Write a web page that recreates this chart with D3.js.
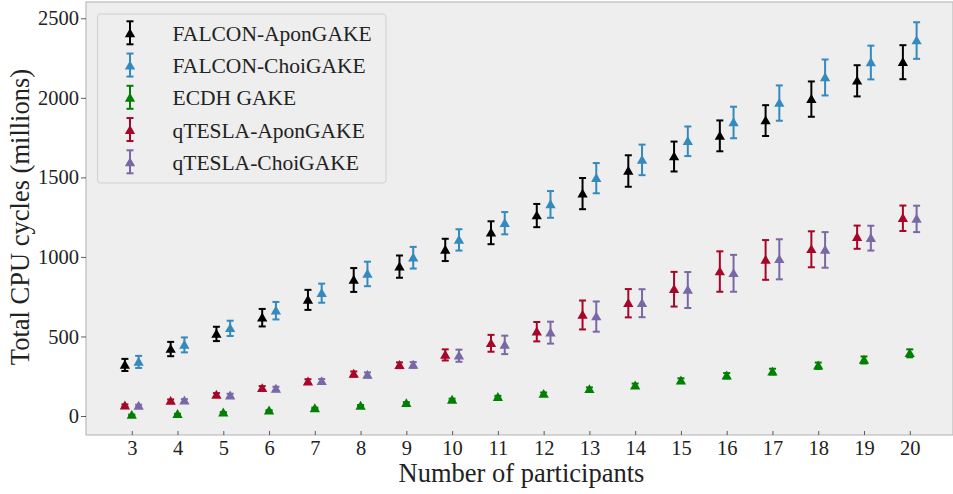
<!DOCTYPE html>
<html>
<head>
<meta charset="utf-8">
<script src="https://cdn.jsdelivr.net/npm/d3@7"></script>
<style>
  body { margin: 0; background: #fff; }
  svg text { font-family: "Liberation Serif", "DejaVu Serif", serif; fill: #222; }
</style>
</head>
<body>
<svg id="chart" width="953" height="494"></svg>
<script>
// participants on the x axis
var participants = [3, 4, 5, 6, 7, 8, 9, 10, 11, 12, 13, 14, 15, 16, 17, 18, 19, 20];

// mean cycles (millions) and error half-widths
var falconApon    = [321, 421, 516, 618, 730, 855, 939, 1044, 1152, 1260, 1398, 1540, 1631, 1761, 1857, 1992, 2107, 2224];
var falconAponErr = [38, 45, 45, 55, 63, 75, 70, 70, 72, 73, 98, 99, 94, 97, 97, 111, 98, 107];
var falconChoi    = [340, 447, 551, 662, 772, 893, 995, 1107, 1212, 1330, 1495, 1610, 1727, 1845, 1967, 2128, 2222, 2360];
var falconChoiErr = [38, 47, 48, 55, 60, 77, 68, 67, 70, 84, 95, 96, 93, 99, 111, 113, 106, 115];
var ecdh          = [6, 11, 21, 33, 48, 63, 80, 101, 118, 138, 168, 191, 222, 253, 279, 316, 352, 394];
var ecdhErr       = [3, 3, 4, 4, 5, 6, 7, 8, 9, 10, 12, 13, 15, 17, 18, 20, 22, 25];
var qteslaApon    = [65, 94, 132, 174, 216, 264, 319, 384, 457, 530, 635, 709, 797, 908, 981, 1048, 1124, 1243];
var qteslaAponErr = [8, 10, 12, 14, 15, 16, 18, 35, 53, 61, 91, 89, 109, 127, 125, 113, 73, 80];
var qteslaChoi    = [63, 96, 128, 170, 218, 258, 321, 379, 447, 524, 625, 709, 792, 897, 985, 1044, 1118, 1239];
var qteslaChoiErr = [8, 10, 12, 14, 15, 16, 18, 38, 58, 69, 95, 88, 113, 116, 126, 112, 78, 83];

var seriesNames  = ["FALCON-AponGAKE", "FALCON-ChoiGAKE", "ECDH GAKE", "qTESLA-AponGAKE", "qTESLA-ChoiGAKE"];
var seriesColors = ["#000000", "#348ABD", "#008000", "#A60628", "#7A68A6"];
var seriesShift  = [-0.15, 0.15, 0, -0.15, 0.15];
var seriesValues = [falconApon, falconChoi, ecdh, qteslaApon, qteslaChoi];
var seriesErrors = [falconAponErr, falconChoiErr, ecdhErr, qteslaAponErr, qteslaChoiErr];

var yTicks = [0, 500, 1000, 1500, 2000, 2500];

var svg = d3.select('#chart');
var plotLeft = 86, plotRight = 953, plotTop = 2, plotBottom = 435;

var x = d3.scaleLinear().domain([2, 20.945]).range([plotLeft, plotRight]);
var y = d3.scaleLinear().domain([-119.4, 2602.4]).range([plotBottom, plotTop]);

// axes background
svg.append('rect')
  .attr('x', plotLeft).attr('y', plotTop)
  .attr('width', plotRight - plotLeft).attr('height', plotBottom - plotTop)
  .attr('fill', '#eeeeee')
  .attr('stroke', '#bcbcbc').attr('stroke-width', 1.2);

// x axis, ticks point inward
var xAxis = svg.append('g')
  .attr('transform', 'translate(0,' + plotBottom + ')')
  .call(d3.axisBottom(x).tickValues(participants).tickSize(-4).tickPadding(5));
xAxis.select('.domain').remove();
xAxis.selectAll('line').attr('stroke', '#333').attr('stroke-width', 0.8);
xAxis.selectAll('text').attr('font-size', '20.5px').attr('fill', '#222')
  .attr('font-family', '"Liberation Serif", serif');

// y axis, ticks point outward
var yAxis = svg.append('g')
  .attr('transform', 'translate(' + plotLeft + ',0)')
  .call(d3.axisLeft(y).tickValues(yTicks).tickFormat(d3.format('d')).tickSize(5).tickPadding(2));
yAxis.select('.domain').remove();
yAxis.selectAll('line').attr('stroke', '#333').attr('stroke-width', 0.8);
yAxis.selectAll('text').attr('font-size', '20.5px').attr('fill', '#222')
  .attr('font-family', '"Liberation Serif", serif');

// axis titles
svg.append('text')
  .attr('x', (plotLeft + plotRight) / 2 + 2).attr('y', 481.5)
  .attr('text-anchor', 'middle').attr('font-size', '26.5px')
  .text('Number of participants');
svg.append('text')
  .attr('transform', 'translate(29,' + 217 + ') rotate(-90)')
  .attr('text-anchor', 'middle').attr('font-size', '26.5px')
  .text('Total CPU cycles (millions)');

var tri = d3.symbol().type(d3.symbolTriangle).size(46);

// draw each series as error bars plus triangle markers
seriesValues.forEach(function(vals, s) {
  var g = svg.append('g');
  var col = seriesColors[s];
  var pts = participants.map(function(p, i) {
    return { x: p + seriesShift[s], v: vals[i], e: seriesErrors[s][i] };
  });
  var bars = g.selectAll('g.bar').data(pts).enter().append('g').attr('class', 'bar');
  bars.append('line')
    .attr('x1', function(d) { return x(d.x); }).attr('x2', function(d) { return x(d.x); })
    .attr('y1', function(d) { return y(d.v - d.e); }).attr('y2', function(d) { return y(d.v + d.e); })
    .attr('stroke', col).attr('stroke-width', 2);
  [-1, 1].forEach(function(sign) {
    bars.append('line')
      .attr('x1', function(d) { return x(d.x) - 3.5; }).attr('x2', function(d) { return x(d.x) + 3.5; })
      .attr('y1', function(d) { return y(d.v + sign * d.e); }).attr('y2', function(d) { return y(d.v + sign * d.e); })
      .attr('stroke', col).attr('stroke-width', 2);
  });
  bars.append('path')
    .attr('d', tri)
    .attr('transform', function(d) { return 'translate(' + x(d.x) + ',' + (y(d.v) + 0.8) + ')'; })
    .attr('fill', col);
});

// legend
var legend = svg.append('g');
legend.append('rect')
  .attr('x', 97.5).attr('y', 14).attr('width', 288.5).attr('height', 169)
  .attr('rx', 3).attr('fill', '#eeeeee').attr('stroke', '#d0d0d0').attr('stroke-width', 1);
seriesNames.forEach(function(name, s) {
  var cy = 33.3 + s * 32.25;
  var col = seriesColors[s];
  var item = legend.append('g').attr('transform', 'translate(130,' + cy + ')');
  item.append('line').attr('x1', 0).attr('x2', 0).attr('y1', -12).attr('y2', 11)
    .attr('stroke', col).attr('stroke-width', 2);
  item.append('line').attr('x1', -3.5).attr('x2', 3.5).attr('y1', -12).attr('y2', -12)
    .attr('stroke', col).attr('stroke-width', 2);
  item.append('line').attr('x1', -3.5).attr('x2', 3.5).attr('y1', 11).attr('y2', 11)
    .attr('stroke', col).attr('stroke-width', 2);
  item.append('path').attr('d', tri).attr('fill', col).attr('transform', 'translate(0,1)');
  item.append('text').attr('x', 42.5).attr('y', 7.5)
    .attr('font-size', '21.5px').text(name);
});
</script>
</body>
</html>
